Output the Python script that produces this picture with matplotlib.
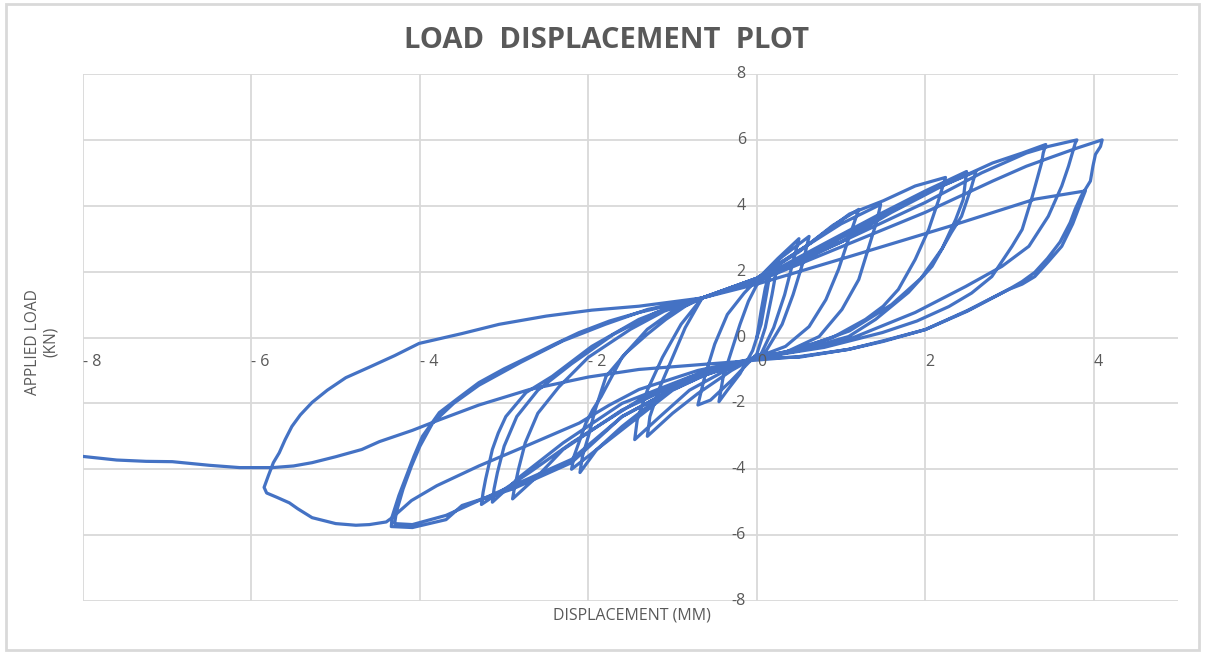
import numpy as np
import matplotlib
matplotlib.use("Agg")
import matplotlib.pyplot as plt
from matplotlib.patches import Rectangle

# Datos (desplazamiento en mm, carga en kN), por ciclo
c1_x = [0.0, 0.05, 0.1, 0.17, 0.12, 0.05, -0.05, -0.2, -0.35, -0.45, -0.4, -0.3, -0.2, -0.1, 0.0,
        0.25, 0.18, 0.1, 0.0, -0.3, -0.55, -0.7, -0.62, -0.5, -0.35, -0.15]
c1_y = [0.0, 0.8, 1.5, 2.16, 1.4, 0.4, -0.4, -1.1, -1.6, -1.95, -1.2, -0.4, 0.4, 1.1, 1.6,
        2.3, 1.3, 0.3, -0.5, -1.3, -1.9, -2.05, -1.2, -0.2, 0.7, 1.35]

c2_x = [0.0, 0.25, 0.5, 0.42, 0.33, 0.2, 0.05, -0.3, -0.7, -1.0, -1.3, -1.27, -1.15, -1.0, -0.85, -0.65,
        0.0, 0.3, 0.62, 0.55, 0.43, 0.3, 0.1, -0.3, -0.8, -1.15, -1.45, -1.42, -1.3, -1.12, -0.9, -0.65]
c2_y = [1.75, 2.4, 3.0, 2.2, 1.3, 0.3, -0.5, -1.0, -1.7, -2.3, -3.0, -2.4, -1.5, -0.6, 0.3, 1.2,
        1.75, 2.45, 3.07, 2.3, 1.3, 0.4, -0.45, -0.9, -1.6, -2.4, -3.1, -2.5, -1.6, -0.6, 0.4, 1.2]

c3_x = [0.0, 0.5, 0.9, 1.21, 1.09, 0.97, 0.82, 0.62, 0.34, 0.0, -0.5, -1.0, -1.4, -1.8, -2.2,
        -2.17, -2.1, -2.03, -1.95, -1.85, -1.6, -1.3, -1.0, -0.65,
        0.0, 0.6, 1.0, 1.47, 1.42, 1.36, 1.21, 1.01, 0.74, 0.34, 0.0, -0.5, -1.1, -1.6, -1.9, -2.1,
        -2.07, -2.0, -1.92, -1.79, -1.55, -1.3, -1.08, -0.85, -0.65]
c3_y = [1.8, 2.6, 3.4, 3.89, 3.0, 2.07, 1.15, 0.33, -0.27, -0.6, -1.0, -1.6, -2.4, -3.2, -4.0,
        -3.6, -3.1, -2.6, -2.2, -1.8, -0.6, 0.25, 0.8, 1.2,
        1.8, 2.8, 3.45, 4.04, 3.5, 3.0, 1.76, 0.85, 0.03, -0.45, -0.62, -1.0, -1.7, -2.7, -3.4, -4.1,
        -3.6, -3.0, -2.2, -1.18, -0.46, 0.1, 0.55, 0.95, 1.2]

c4_x = [0.0, 0.6, 1.1, 1.5, 1.88, 2.24, 2.16, 2.04, 1.88, 1.68, 1.5, 1.29, 0.9, 0.4, 0.0, -0.7, -1.4, -2.2, -2.7, -3.27,
        -3.25, -3.22, -3.14, -3.07, -2.98, -2.74, -2.43, -1.96, -1.4, -1.0, -0.65,
        0.0, 0.8, 1.5, 2.0, 2.49, 2.45, 2.36, 2.2, 1.95, 1.6, 1.1, 0.5, 0.0, -0.8, -1.6, -2.3, -2.8, -3.14,
        -3.12, -3.08, -3.0, -2.85, -2.6, -2.2, -1.7, -1.2, -0.65,
        0.0, 0.8, 1.5, 2.1, 2.6, 2.55, 2.43, 2.31, 2.08, 1.8, 1.41, 1.09, 0.5, 0.0, -0.8, -1.6, -2.3, -2.6, -2.9,
        -2.88, -2.83, -2.75, -2.6, -2.35, -2.0, -1.5, -1.1, -0.65]
c4_y = [1.8, 2.8, 3.75, 4.15, 4.6, 4.86, 4.19, 3.28, 2.37, 1.46, 0.95, 0.55, 0.0, -0.4, -0.62, -1.1, -1.9, -3.2, -4.1, -5.07,
        -4.7, -4.3, -3.4, -2.9, -2.4, -1.67, -1.18, -0.27, 0.55, 0.95, 1.2,
        1.75, 2.85, 3.8, 4.45, 5.04, 4.19, 3.58, 2.7, 1.8, 1.0, 0.2, -0.35, -0.62, -1.2, -2.0, -3.2, -4.2, -5.0,
        -4.6, -4.1, -3.3, -2.4, -1.6, -0.8, 0.1, 0.75, 1.2,
        1.7, 2.75, 3.7, 4.5, 5.04, 4.59, 3.68, 3.19, 2.16, 1.37, 0.55, 0.03, -0.4, -0.62, -1.25, -2.2, -3.4, -4.2, -4.9,
        -4.6, -4.0, -3.2, -2.3, -1.5, -0.6, 0.25, 0.8, 1.2]

c5_x = [0.0, 1.0, 1.6, 2.2, 2.8, 3.15, 3.43, 3.4, 3.38, 3.27, 3.15, 3.03, 2.79, 2.55, 2.28, 1.9, 1.49, 0.8, 0.0,
        -0.8, -1.6, -2.2, -2.9, -3.5, -3.69, -4.09, -4.34,
        -4.33, -4.25, -4.16, -4.07, -3.97, -3.77, -3.55, -3.3, -3.0, -2.7, -2.4, -2.11, -1.75, -1.4, -1.0, -0.65,
        0.0, 1.0, 2.0, 2.67, 3.2, 3.46, 3.8, 3.78, 3.7, 3.62, 3.46, 3.23, 2.91, 2.48, 1.88, 1.09, 0.5, 0.0,
        -0.8, -1.6, -2.2, -2.9, -3.3, -3.69, -4.09, -4.3,
        -4.28, -4.2, -4.1, -4.0, -3.85, -3.6, -3.3, -2.8, -2.3, -1.8, -1.3, -0.65,
        0.0, 1.0, 2.0, 2.8, 3.2, 3.46, 3.8, 4.1]
c5_y = [1.7, 2.9, 3.8, 4.6, 5.3, 5.6, 5.86, 5.6, 5.3, 4.28, 3.28, 2.77, 1.85, 1.35, 0.94, 0.5, 0.15, -0.3, -0.62,
        -1.3, -2.4, -3.8, -4.6, -5.1, -5.53, -5.77, -5.74,
        -5.44, -4.8, -4.2, -3.6, -3.0, -2.28, -1.85, -1.37, -0.95, -0.58, -0.2, 0.15, 0.5, 0.76, 1.0, 1.2,
        1.75, 2.9, 4.1, 5.0, 5.6, 5.8, 6.0, 5.9, 5.2, 4.6, 3.68, 2.77, 2.16, 1.55, 0.76, -0.06, -0.4, -0.6,
        -1.3, -2.4, -3.7, -4.5, -4.95, -5.4, -5.68, -5.65,
        -5.3, -4.6, -3.9, -3.3, -2.6, -2.0, -1.45, -0.75, -0.1, 0.4, 0.85, 1.2,
        1.7, 2.75, 3.8, 4.75, 5.2, 5.44, 5.75, 6.0]

c6_x = [4.08, 4.02, 3.99, 3.96, 3.9, 3.85, 3.78, 3.72, 3.6, 3.45, 3.3, 3.15, 2.99, 2.5, 2.0, 1.5, 1.09, 0.5, 0.0,
        -0.7, -1.4, -1.75, -2.11, -2.7, -3.3, -3.8, -4.1, -4.33, -4.4, -4.6, -4.76, -5.0, -5.28, -5.45,
        -5.55, -5.7, -5.82, -5.85,
        -5.8, -5.74, -5.67, -5.6, -5.52, -5.42, -5.28, -5.1, -4.88, -4.6, -4.3, -4.01, -3.5, -3.06, -2.5,
        -1.96, -1.4, -0.65]
c6_y = [5.8, 5.56, 5.2, 4.75, 4.5, 4.29, 3.9, 3.49, 2.9, 2.4, 1.98, 1.7, 1.46, 0.82, 0.24, -0.1, -0.36, -0.6, -0.62,
        -1.0, -1.58, -2.05, -2.6, -3.25, -3.9, -4.5, -4.95, -5.47, -5.6, -5.68, -5.7, -5.65, -5.47, -5.2,
        -5.02, -4.85, -4.72, -4.55,
        -4.2, -3.8, -3.5, -3.1, -2.7, -2.35, -1.97, -1.6, -1.22, -0.9, -0.55, -0.18, 0.12, 0.4, 0.65,
        0.83, 0.95, 1.2]

c7_x = [0.0, 1.09, 2.28, 3.3, 3.9, 3.86, 3.75, 3.62, 3.46, 3.3, 3.15, 2.99, 2.5, 2.0, 1.5, 1.09, 0.5, -0.21,
        -1.4, -2.0, -2.7, -3.3, -3.77, -4.09, -4.48, -4.69, -5.0, -5.28, -5.5, -5.75, -6.14, -6.5, -6.94,
        -7.25, -7.6, -8.04]
c7_y = [1.62, 2.45, 3.37, 4.2, 4.45, 4.19, 3.45, 2.77, 2.3, 1.85, 1.62, 1.46, 0.8, 0.24, -0.12, -0.36, -0.58, -0.73,
        -0.97, -1.2, -1.58, -2.05, -2.5, -2.82, -3.16, -3.4, -3.62, -3.8, -3.9, -3.95, -3.95, -3.88, -3.77,
        -3.76, -3.72, -3.6]

x_ticks = [-8, -6, -4, -2, 0, 2, 4]
y_ticks = [-8, -6, -4, -2, 0, 2, 4, 6, 8]

disp = np.concatenate([c1_x, c2_x, c3_x, c4_x, c5_x, c6_x, c7_x])
load = np.concatenate([c1_y, c2_y, c3_y, c4_y, c5_y, c6_y, c7_y])

W, H = 1205, 654
fig = plt.figure(figsize=(W / 100, H / 100), dpi=100)
ax = fig.add_axes([83 / W, 1 - 601 / H, (1178 - 83) / W, (601 - 74) / H])

gris = "#d9d9d9"
texto = "#595959"
plt.rcParams['font.family'] = ['Open Sans', 'DejaVu Sans']

# rejilla estilo Excel
for xv in x_ticks:
    ax.axvline(xv, color=gris, lw=1.3, zorder=0)
for yv in y_ticks:
    ax.axhline(yv, color=gris, lw=1.3, zorder=0)

ax.plot(disp, load, color="#4472C4", lw=2.3, solid_joinstyle='round', zorder=3)

ax.set_xlim(-8, 5)
ax.set_ylim(-8, 8)
for s in ax.spines.values():
    s.set_visible(False)
ax.set_xticks([])
ax.set_yticks([])

# etiquetas de los ejes que se cruzan en 0
for xv in x_ticks:
    lab = "- %d" % abs(xv) if xv < 0 else "%d" % xv
    ax.annotate(lab, (xv, 0), xytext=(0, -24), textcoords='offset pixels',
                ha='left', va='center', fontsize=11.5, color=texto, family='Open Sans')
for yv in y_ticks:
    ax.annotate("%d" % yv, (0, yv), xytext=(-11, 0), textcoords='offset pixels',
                ha='right', va='center', fontsize=11.5, color=texto, family='Open Sans')

fig.text(607 / W, 1 - 41 / H, "LOAD  DISPLACEMENT  PLOT",
         ha='center', va='center', fontsize=21, fontweight='bold', color=texto, family='Open Sans')
fig.text(632 / W, 1 - 616 / H, "DISPLACEMENT (MM)", ha='center', va='center',
         fontsize=11.5, color=texto, family='Open Sans')
fig.text(42 / W, 1 - 342 / H, "APPLIED LOAD\n(KN)", ha='center', va='center', rotation=90,
         fontsize=11.2, color=texto, family='Open Sans', linespacing=1.15)

fig.patches.append(Rectangle((6 / W, 4 / H), 1 - 12 / W, 1 - 8 / H, transform=fig.transFigure,
                             fill=False, edgecolor=gris, lw=2))

fig.savefig("out.png", dpi=100)
